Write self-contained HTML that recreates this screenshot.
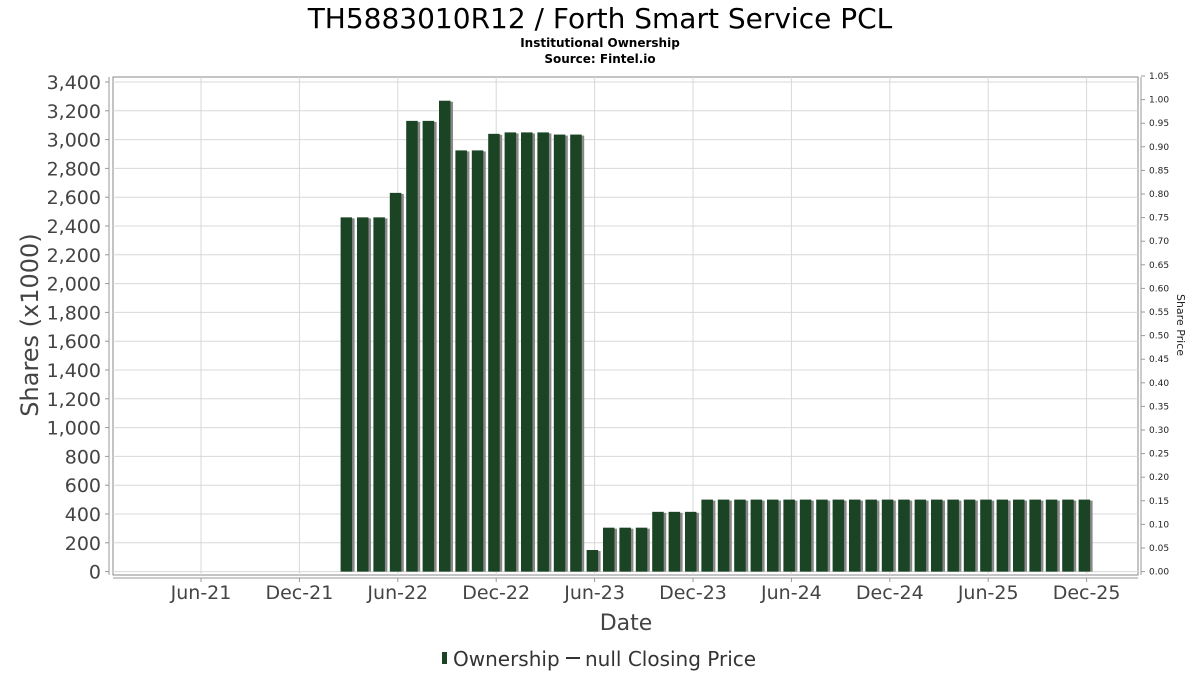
<!DOCTYPE html>
<html><head><meta charset="utf-8"><style>
body{margin:0;background:#fff;font-family:"DejaVu Sans","Liberation Sans",sans-serif;}
</style></head><body>
<svg id="c" width="1200" height="675" xmlns="http://www.w3.org/2000/svg">
<text x="600" y="28" text-anchor="middle" font-size="28" fill="#000">TH5883010R12 / Forth Smart Service PCL</text>
<text x="600" y="47" text-anchor="middle" font-size="12" font-weight="bold">Institutional Ownership</text>
<text x="600" y="63" text-anchor="middle" font-size="12" font-weight="bold">Source: Fintel.io</text>
<rect x="113" y="77" width="1025" height="498" fill="#fff" stroke="#888"/>
<g id="grid"></g><g id="bars"></g><g id="axes"></g>
<text transform="translate(38,325) rotate(-90)" text-anchor="middle" font-size="24" fill="#444">Shares (x1000)</text>
<text transform="translate(1177,325) rotate(90)" text-anchor="middle" font-size="11" fill="#222">Share Price</text>
<text x="626" y="630" text-anchor="middle" font-size="22" fill="#444">Date</text>
<g>
<rect x="442" y="652" width="5" height="12" fill="#1a4424"/>
<text x="453" y="666" font-size="20" fill="#333">Ownership</text>
<line x1="566" y1="658" x2="580" y2="658" stroke="#333" stroke-width="2"/>
<text x="585" y="666" font-size="20" fill="#333">null Closing Price</text>
</g>
</svg>
<script>
const months = ["Mar-22","Apr-22","May-22","Jun-22","Jul-22","Aug-22","Sep-22","Oct-22","Nov-22","Dec-22","Jan-23","Feb-23","Mar-23","Apr-23","May-23","Jun-23","Jul-23","Aug-23","Sep-23","Oct-23","Nov-23","Dec-23","Jan-24","Feb-24","Mar-24","Apr-24","May-24","Jun-24","Jul-24","Aug-24","Sep-24","Oct-24","Nov-24","Dec-24","Jan-25","Feb-25","Mar-25","Apr-25","May-25","Jun-25","Jul-25","Aug-25","Sep-25","Oct-25","Nov-25","Dec-25"];
const ownership = [2460,2460,2460,2630,3130,3130,3270,2925,2925,3040,3050,3050,3050,3035,3035,150,305,305,305,415,415,415,500,500,500,500,500,500,500,500,500,500,500,500,500,500,500,500,500,500,500,500,500,500,500,500];
const xTickLabels = ["Jun-21","Dec-21","Jun-22","Dec-22","Jun-23","Dec-23","Jun-24","Dec-24","Jun-25","Dec-25"];
const yTicks = [0,200,400,600,800,1000,1200,1400,1600,1800,2000,2200,2400,2600,2800,3000,3200,3400];
const y2Ticks = [0,0.05,0.1,0.15,0.2,0.25,0.3,0.35,0.4,0.45,0.5,0.55,0.6,0.65,0.7,0.75,0.8,0.85,0.9,0.95,1.0,1.05];
const NS="http://www.w3.org/2000/svg";
const mIdx=s=>{const [m,y]=s.split("-");return (+y)*12+["Jan","Feb","Mar","Apr","May","Jun","Jul","Aug","Sep","Oct","Nov","Dec"].indexOf(m);};
const base=mIdx("Jun-21");
const x=s=>201+(mIdx(s)-base)*16.4;
const y=v=>571.6-v*(489.6/3400);
const y2=v=>571.6-v*(495.6/1.05);
function mk(t,a,p){const e=document.createElementNS(NS,t);for(const k in a)e.setAttribute(k,a[k]);p.appendChild(e);return e;}
const grid=document.getElementById('grid'),bars=document.getElementById('bars'),axes=document.getElementById('axes');
yTicks.forEach(v=>{
 const l=mk('line',{x1:113,x2:1138,y1:y(v),y2:y(v),stroke:'#d8d8d8'},grid);
 
 
 mk('line',{x1:105,x2:109,y1:y(v),y2:y(v),stroke:'#999'},axes);
 const t=mk('text',{x:101,y:y(v)+7,'text-anchor':'end','font-size':19,fill:'#444'},axes);
 t.textContent=v.toLocaleString('en-US');
 
 
});
mk('line',{x1:109,x2:109,y1:77,y2:575,stroke:'#999'},axes);
y2Ticks.forEach(v=>{
 mk('line',{x1:1141,x2:1145,y1:y2(v),y2:y2(v),stroke:'#999'},axes);
 const t=mk('text',{x:1149,y:y2(v)+3,'font-size':9,fill:'#222'},axes);
 t.textContent=v.toFixed(2);
 
 
});
mk('line',{x1:1141,x2:1141,y1:77,y2:575,stroke:'#999'},axes);
mk('line',{x1:113,x2:1138,y1:578,y2:578,stroke:'#999'},axes);
xTickLabels.forEach(s=>{
 const l=mk('line',{x1:x(s),x2:x(s),y1:77,y2:575,stroke:'#d8d8d8'},grid);
 
 
 mk('line',{x1:x(s),x2:x(s),y1:578,y2:582,stroke:'#999'},axes);
 const t=mk('text',{x:x(s),y:599,'text-anchor':'middle','font-size':19,fill:'#444'},axes);
 t.textContent=s;
 
 
});
months.forEach((m,i)=>{
 const cx=x(m)-2,top=y(ownership[i]),h=y(0)-top;
 mk('rect',{x:cx-4,y:top+1,width:12,height:h-1,fill:'#888'},bars);
 const r=mk('rect',{x:cx-6,y:top,width:11.5,height:h,fill:'#1a4424'},bars);
 
 
});
</script>
</body></html>
